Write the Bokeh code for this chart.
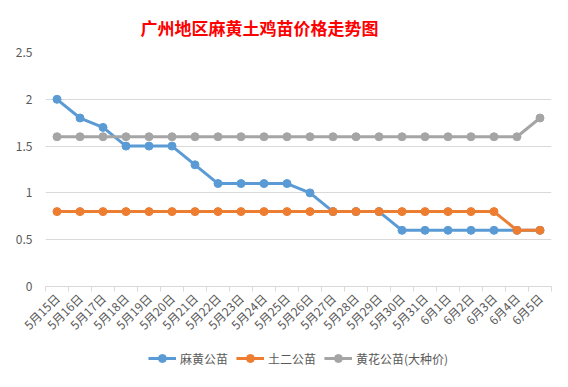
from bokeh.plotting import figure
from bokeh.layouts import column
from bokeh.models import (Range1d, FixedTicker, Legend, LegendItem, Title)
from bokeh.embed import file_html
from bokeh.resources import INLINE

dates = ["5月15日", "5月16日", "5月17日", "5月18日", "5月19日", "5月20日",
         "5月21日", "5月22日", "5月23日", "5月24日", "5月25日", "5月26日",
         "5月27日", "5月28日", "5月29日", "5月30日", "5月31日",
         "6月1日", "6月2日", "6月3日", "6月4日", "6月5日"]
mahuang = [2.0, 1.8, 1.7, 1.5, 1.5, 1.5, 1.3, 1.1, 1.1, 1.1, 1.1, 1.0,
           0.8, 0.8, 0.8, 0.6, 0.6, 0.6, 0.6, 0.6, 0.6, 0.6]
tuer = [0.8, 0.8, 0.8, 0.8, 0.8, 0.8, 0.8, 0.8, 0.8, 0.8, 0.8, 0.8,
        0.8, 0.8, 0.8, 0.8, 0.8, 0.8, 0.8, 0.8, 0.6, 0.6]
huanghua = [1.6] * 21 + [1.8]
series_names = ["麻黄公苗", "土二公苗", "黄花公苗(大种价)"]
series_colors = ["#5B9BD5", "#ED7D31", "#A5A5A5"]
y_ticks = [0, 0.5, 1, 1.5, 2, 2.5]
y_labels = ["0", "0.5", "1", "1.5", "2", "2.5"]

n = len(dates)
xs = [i + 0.5 for i in range(n)]
series = [mahuang, tuer, huanghua]

FONT = "Noto Sans CJK SC"

p = figure(width=566, height=345, frame_width=506, frame_height=234,
           output_backend="svg", toolbar_location=None,
           x_range=Range1d(0, n), y_range=Range1d(0, 2.5),
           min_border_left=45, min_border_right=15, min_border_top=52,
           min_border_bottom=59)
p.outline_line_color = None
p.background_fill_color = "white"
p.border_fill_color = "white"

title = Title(text="广州地区麻黄土鸡苗价格走势图", align="left", offset=95,
              vertical_align="top",
              text_color="#FF0000", text_font=FONT, text_font_size="17px",
              text_font_style="bold", standoff=22)
p.add_layout(title, "above")

# x axis
p.xaxis.ticker = FixedTicker(ticks=xs, minor_ticks=list(range(n + 1)))
p.xaxis.major_label_overrides = {x: d for x, d in zip(xs, dates)}
p.xaxis.major_label_orientation = 0.785398
p.xaxis.major_tick_out = 0
p.xaxis.major_tick_in = 0
p.xaxis.minor_tick_out = 5
p.xaxis.minor_tick_in = 0
p.xaxis.minor_tick_line_color = "#D9D9D9"
p.xaxis.axis_line_color = "#D9D9D9"
p.xaxis.major_label_text_font = FONT
p.xaxis.major_label_text_font_size = "12px"
p.xaxis.major_label_text_color = "#595959"
p.xaxis.major_label_standoff = 4

# y axis
p.yaxis.ticker = FixedTicker(ticks=y_ticks, minor_ticks=[])
p.yaxis.major_label_overrides = {t: l for t, l in zip(y_ticks, y_labels)}
p.yaxis.axis_line_color = None
p.yaxis.major_tick_line_color = None
p.yaxis.minor_tick_line_color = None
p.yaxis.major_label_text_font = FONT
p.yaxis.major_label_text_font_size = "12px"
p.yaxis.major_label_text_color = "#595959"
p.yaxis.major_label_standoff = 7

p.xgrid.grid_line_color = None
p.ygrid.grid_line_color = "#D9D9D9"
p.ygrid.grid_line_width = 1

for vals, col in zip(series, series_colors):
    p.line(xs, vals, line_color=col, line_width=3)
    p.scatter(xs, vals, size=8, fill_color=col, line_color=col)

# legend strip (separate figure so the legend sits below the axis labels);
# its view range excludes the data so only the legend is visible
lp = figure(width=566, height=40, output_backend="svg", toolbar_location=None,
            x_range=Range1d(0, n), y_range=Range1d(100, 101),
            x_axis_type=None, y_axis_type=None,
            min_border_left=0, min_border_right=0, min_border_top=0,
            min_border_bottom=0)
lp.outline_line_color = None
lp.xgrid.grid_line_color = None
lp.ygrid.grid_line_color = None
lp.border_fill_color = "white"

items = []
for name, vals, col in zip(series_names, series, series_colors):
    r1 = lp.line(xs, vals, line_color=col, line_width=3)
    r2 = lp.scatter(xs, vals, size=8, fill_color=col, line_color=col)
    items.append(LegendItem(label=name, renderers=[r1, r2]))

legend = Legend(items=items, orientation="horizontal", location="top_center",
                label_text_font=FONT, label_text_font_size="12px",
                label_text_color="#595959", border_line_color=None,
                background_fill_alpha=0, glyph_width=28, label_standoff=4,
                spacing=8, margin=3, padding=4)
lp.add_layout(legend, "center")

layout = column(p, lp, spacing=0)
open("out.html", "w").write(file_html(layout, INLINE))
